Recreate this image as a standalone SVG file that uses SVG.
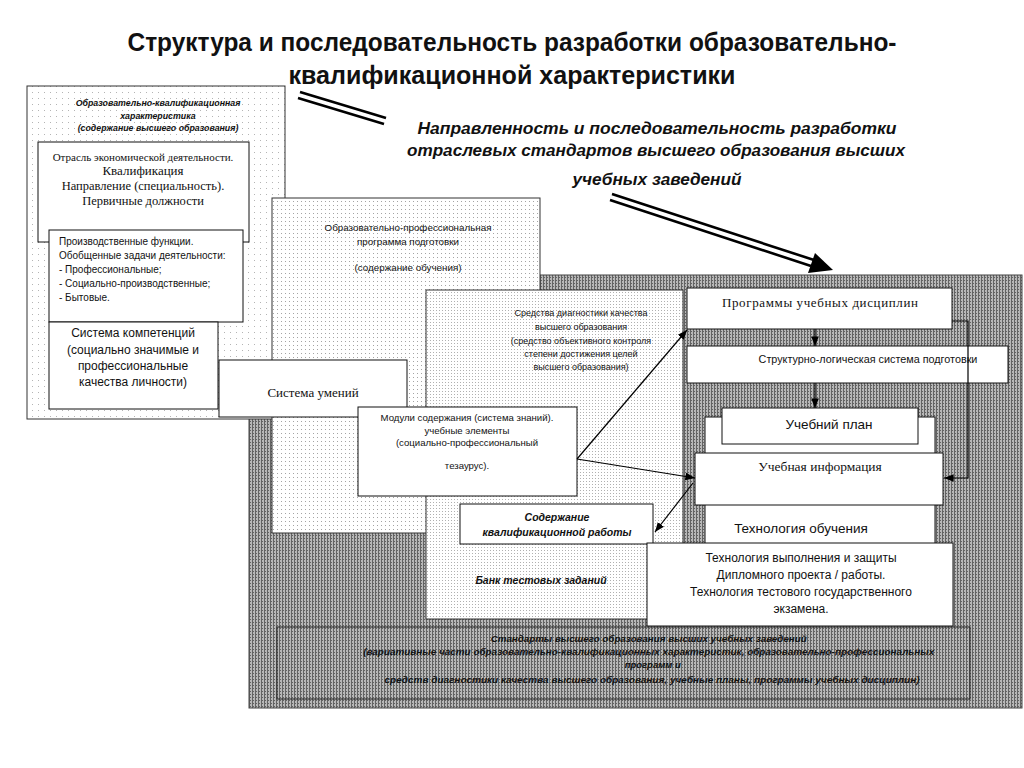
<svg xmlns="http://www.w3.org/2000/svg" width="1024" height="768" viewBox="0 0 1024 768">
<defs>
<style>
.sans{font-family:"Liberation Sans",Arial,sans-serif;fill:#111}
.serif{font-family:"Liberation Serif","Times New Roman",serif;fill:#111}
.bi{font-family:"Liberation Sans",Arial,sans-serif;font-weight:bold;font-style:italic;fill:#111}
.box{fill:#fff;stroke:#111;stroke-width:1}
.conn{stroke:#000;stroke-width:1.2;fill:none}
.dbl{stroke:#000;stroke-width:2.6;fill:none}
</style>
<pattern id="dotsL" width="6" height="6" patternUnits="userSpaceOnUse"><rect width="6" height="6" fill="#fff"/><rect x="2" y="2" width="1" height="1" fill="#b4b4b4"/></pattern>
<pattern id="dotsM" width="4" height="4" patternUnits="userSpaceOnUse"><rect width="4" height="4" fill="#fff"/><rect x="1" y="1" width="1" height="1" fill="#a4a4a4"/></pattern>
<pattern id="dotsS" width="3" height="3" patternUnits="userSpaceOnUse"><rect width="3" height="3" fill="#fff"/><rect x="1" y="1" width="1" height="1" fill="#b0b0b0"/></pattern>
<pattern id="gray" width="3" height="3" patternUnits="userSpaceOnUse"><rect width="3" height="3" fill="#b8b8b8"/><rect x="0" y="0" width="1" height="3" fill="#636363"/><rect x="1" y="1" width="1" height="1" fill="#636363"/></pattern>
<marker id="ah" viewBox="0 0 10 10" refX="10" refY="5" markerWidth="8" markerHeight="8" orient="auto-start-reverse"><path d="M0,1 L10,5 L0,9 z" fill="#000"/></marker>
</defs>
<rect width="1024" height="768" fill="#fff"/>

<g id="title">
<text class="sans" x="512" y="51" font-size="25" font-weight="bold" text-anchor="middle" textLength="769" lengthAdjust="spacingAndGlyphs">Структура и последовательность разработки образовательно-</text>
<text class="sans" x="512" y="84" font-size="25" font-weight="bold" text-anchor="middle" textLength="447" lengthAdjust="spacingAndGlyphs">квалификационной характеристики</text>
</g>

<g id="heading">
<text class="bi" x="657" y="134" font-size="16.5" text-anchor="middle" textLength="479" lengthAdjust="spacingAndGlyphs">Направленность и последовательность разработки</text>
<text class="bi" x="656" y="156" font-size="16.5" text-anchor="middle" textLength="498" lengthAdjust="spacingAndGlyphs">отраслевых стандартов высшего образования высших</text>
<text class="bi" x="657" y="185" font-size="16.5" text-anchor="middle" textLength="169" lengthAdjust="spacingAndGlyphs">учебных заведений</text>
</g>

<g id="gray-field">
<rect x="249" y="275" width="773" height="433" fill="url(#gray)" stroke="#444" stroke-width="1"/>
</g>

<g id="oqh">
<rect x="27" y="86" width="258" height="333" fill="url(#dotsL)" stroke="#333" stroke-width="1"/>
<text class="bi" font-size="8.8" text-anchor="middle"><tspan x="158" y="106">Образовательно-квалификационная</tspan><tspan x="158" y="119">характеристика</tspan><tspan x="158" y="131">(содержание высшего образования)</tspan></text>
</g>

<g id="opp">
<rect x="272" y="198" width="268" height="335" fill="url(#dotsM)" stroke="#333" stroke-width="1"/>
<text class="sans" font-size="9.8" text-anchor="middle"><tspan x="408" y="231">Образовательно-профессиональная</tspan><tspan x="408" y="245">программа подготовки</tspan><tspan x="408" y="271">(содержание обучения)</tspan></text>
</g>

<g id="otrasl">
<rect class="box" x="38" y="142" width="211" height="100"/>
<text class="serif" x="143" y="161" font-size="11" text-anchor="middle">Отрасль экономической деятельности.</text>
<text class="serif" x="143" y="175" font-size="13" text-anchor="middle">Квалификация</text>
<text class="serif" x="143" y="190" font-size="12.5" text-anchor="middle">Направление (специальность).</text>
<text class="serif" x="143" y="205" font-size="12.5" text-anchor="middle">Первичные должности</text>
</g>

<g id="proizv">
<rect class="box" x="49" y="230" width="194" height="92"/>
<text class="sans" font-size="10"><tspan x="59" y="245">Производственные функции.</tspan><tspan x="59" y="259">Обобщенные задачи деятельности:</tspan><tspan x="59" y="273">- Профессиональные;</tspan><tspan x="59" y="287">- Социально-производственные;</tspan><tspan x="59" y="301">- Бытовые.</tspan></text>
</g>

<g id="kompet">
<rect class="box" x="49" y="322" width="169" height="87"/>
<text class="sans" font-size="12" text-anchor="middle"><tspan x="133" y="337">Система компетенций</tspan><tspan x="133" y="354">(социально значимые и</tspan><tspan x="133" y="370">профессиональные</tspan><tspan x="133" y="386">качества личности)</tspan></text>
</g>

<g id="umeniy">
<rect class="box" x="219" y="360" width="188" height="57"/>
<text class="serif" x="313" y="397" font-size="13" text-anchor="middle">Система умений</text>
</g>

<g id="sredstva">
<rect x="426" y="290" width="257" height="329" fill="url(#dotsS)" stroke="#333" stroke-width="1"/>
<text class="sans" font-size="9" text-anchor="middle"><tspan x="581" y="316">Средства диагностики качества</tspan><tspan x="581" y="330">высшего образования</tspan><tspan x="581" y="344">(средство объективного контроля</tspan><tspan x="581" y="357">степени достижения целей</tspan><tspan x="581" y="370">высшего образования)</tspan></text>
<text class="bi" x="541" y="584" font-size="10.5" text-anchor="middle">Банк тестовых заданий</text>
</g>

<g id="moduli">
<rect class="box" x="358" y="407" width="219" height="89"/>
<text class="sans" font-size="9.6" text-anchor="middle"><tspan x="467" y="421">Модули содержания (система знаний).</tspan><tspan x="467" y="434">учебные элементы</tspan><tspan x="467" y="446">(социально-профессиональный</tspan><tspan x="467" y="469">тезаурус).</tspan></text>
</g>

<g id="soderzh">
<rect class="box" x="460" y="504" width="193" height="40"/>
<text class="bi" font-size="10.5" text-anchor="middle"><tspan x="557" y="521">Содержание</tspan><tspan x="557" y="536">квалификационной работы</tspan></text>
</g>

<g id="tech-obuch">
<rect class="box" x="705" y="417" width="230" height="128"/>
<text class="sans" x="801" y="533" font-size="13.5" text-anchor="middle">Технология обучения</text>
</g>

<g id="programmy">
<rect class="box" x="687" y="288" width="265" height="41"/>
<text class="serif" x="820" y="307" font-size="13" text-anchor="middle" textLength="196" lengthAdjust="spacing">Программы учебных дисциплин</text>
</g>

<g id="struktur">
<rect class="box" x="687" y="346" width="321" height="37"/>
<text class="sans" x="868" y="363" font-size="10.8" text-anchor="middle">Структурно-логическая система подготовки</text>
</g>

<g id="plan">
<rect class="box" x="722" y="408" width="196" height="36"/>
<text class="sans" x="829" y="429" font-size="13.5" text-anchor="middle">Учебний план</text>
</g>

<g id="info">
<rect class="box" x="695" y="453" width="248" height="52"/>
<text class="serif" x="820" y="471" font-size="13.5" text-anchor="middle">Учебная информация</text>
</g>

<g id="tech-diplom">
<rect class="box" x="647" y="543" width="306" height="83"/>
<text class="sans" font-size="12" text-anchor="middle"><tspan x="801" y="562">Технология выполнения и защиты</tspan><tspan x="801" y="579">Дипломного проекта / работы.</tspan><tspan x="801" y="596">Технология тестового государственного</tspan><tspan x="801" y="613">экзамена.</tspan></text>
</g>

<g id="standarty">
<rect x="277" y="627" width="693" height="72" fill="url(#gray)" stroke="#222" stroke-width="1"/>
<text class="bi" font-size="9.5" text-anchor="middle" fill="#1a1a1a">
<tspan x="650" y="642" textLength="316" lengthAdjust="spacingAndGlyphs">Стандарты высшего образования высших учебных заведений</tspan>
<tspan x="650" y="655" textLength="571" lengthAdjust="spacingAndGlyphs">(вариативные части образовательно-квалификационных характеристик, образовательно-профессиональных</tspan>
<tspan x="654" y="668">программ и</tspan>
<tspan x="652" y="683" textLength="535" lengthAdjust="spacingAndGlyphs">средств диагностики качества высшего образования, учебные планы, программы учебных дисциплин)</tspan>
</text>
</g>

<g id="connectors">
<line class="dbl" x1="300" y1="92" x2="386" y2="118"/>
<line class="dbl" x1="298" y1="98" x2="384" y2="124"/>
<line class="dbl" x1="612" y1="194" x2="814" y2="260"/>
<line class="dbl" x1="610" y1="200" x2="811" y2="266"/>
<polygon points="833,270 808,273 815,253" fill="#000"/>
<line class="conn" x1="577" y1="459" x2="687" y2="330" marker-end="url(#ah)"/>
<line class="conn" x1="577" y1="459" x2="695" y2="478" marker-end="url(#ah)"/>
<line class="conn" x1="693" y1="483" x2="655" y2="532" marker-end="url(#ah)"/>
<line class="conn" x1="815" y1="329" x2="815" y2="346" marker-end="url(#ah)"/>
<line class="conn" x1="815" y1="383" x2="815" y2="408" marker-end="url(#ah)"/>
<polyline class="conn" points="952,321 968,321 968,478 944,478" marker-end="url(#ah)"/>
</g>
</svg>
